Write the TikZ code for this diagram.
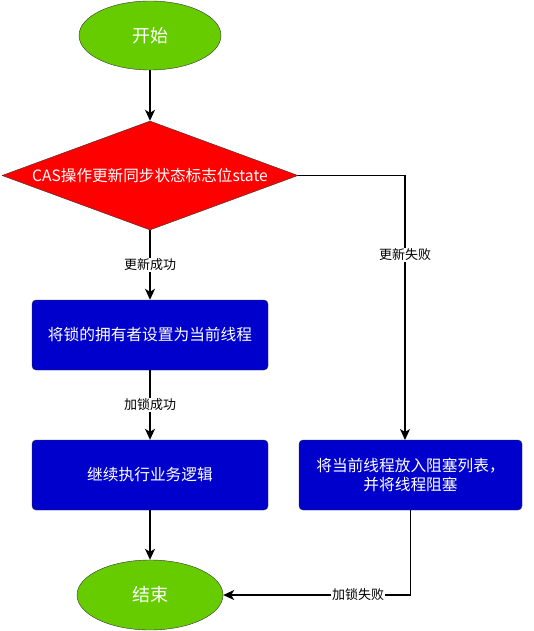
\documentclass[tikz,border=0pt]{standalone}
\usepackage{fontspec}
\setmainfont{Noto Sans CJK SC}
\usepackage{tikz}
\usetikzlibrary{arrows.meta,shapes.geometric}
\definecolor{okgreen}{HTML}{66CC00}
\definecolor{stepblue}{HTML}{0000CC}
\tikzset{
	endpt/.style={ellipse, draw=black!80, fill=okgreen, text=white, font=\fontsize{18}{20}\selectfont, inner sep=0},
	testbox/.style={diamond, draw=black!80, fill=red, text=white, font=\fontsize{15.6}{18}\selectfont, inner sep=0, aspect=2.716, minimum width=296, minimum height=109},
	workbox/.style={rectangle, rounded corners=4, draw=black!80, fill=stepblue, text=white, font=\fontsize{15.7}{19}\selectfont, align=center, minimum width=236, minimum height=70},
	arr/.style={line width=1.4pt, -{Stealth[length=11pt,width=10pt,inset=3pt]}},
	lbl/.style={fill=white, inner sep=1pt, font=\fontsize{13}{15}\selectfont}
}
\begin{document}
\begin{tikzpicture}[x=1pt,y=-1pt]
			%%%%% START %%%%%
			\useasboundingbox (0, 0) rectangle (534, 631);
			
			\node[endpt, minimum width=142, minimum height=69] (start) at (150, 35.5) {开始};
			\node[testbox] (check) at (150, 175.5) {CAS操作更新同步状态标志位state};
			
			\node[workbox] (owner) at (150, 335) {将锁的拥有者设置为当前线程};
			\node[workbox] (work) at (150, 475) {继续执行业务逻辑};
			\node[workbox, minimum width=223] (block) at (410.5, 475) {将当前线程放入阻塞列表，\\并将线程阻塞};
			
			\node[endpt, minimum width=146, minimum height=70] (stop) at (150, 595) {结束};
			
			\coordinate (blockin) at (405, 440);
			
			\draw[arr] (start) -- (check);
			\draw[arr] (check) -- node[lbl, pos=0.5] {更新成功} (owner);
			\draw[arr] (owner) -- node[lbl, pos=0.5] {加锁成功} (work);
			\draw[arr] (work) -- (stop);
			\draw[arr] (check.east) -| node[lbl, pos=0.65] {更新失败} (blockin);
			\draw[arr] (block.south) |- node[lbl, pos=0.64] {加锁失败} (stop.east);
			
			%%%%% END %%%%%
		\end{tikzpicture}
\end{document}
